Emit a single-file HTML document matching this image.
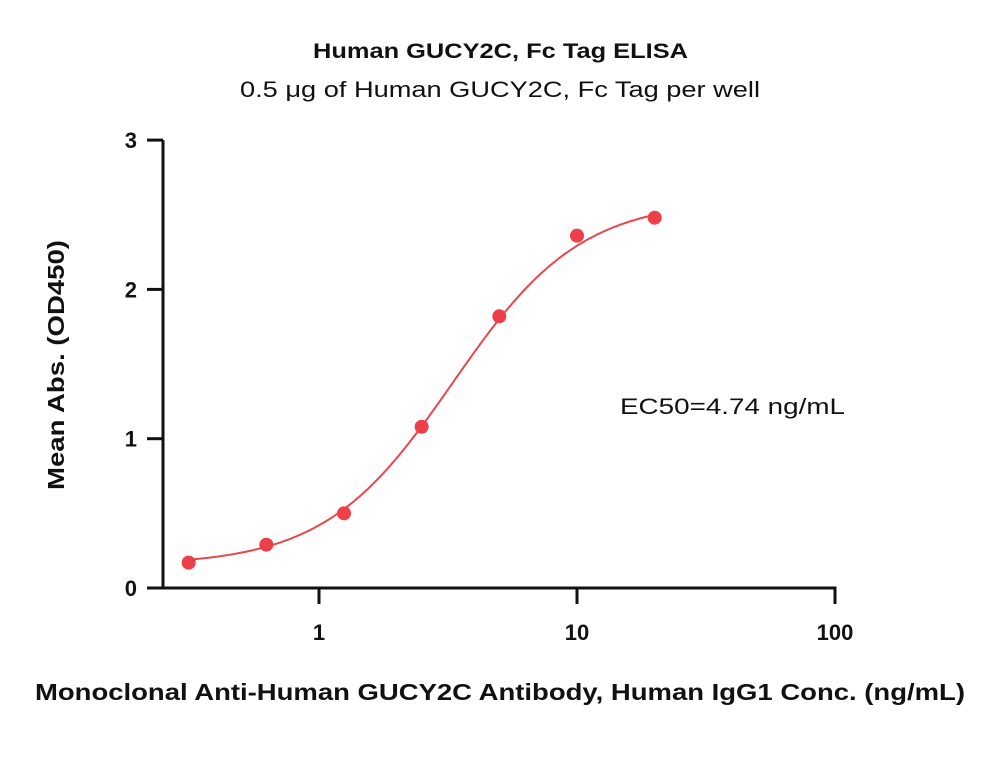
<!DOCTYPE html>
<html><head><meta charset="utf-8"><style>
html,body{margin:0;padding:0;background:#fff;}
svg{display:block;font-family:"Liberation Sans",sans-serif;}
</style></head><body>
<svg id="chart" width="1000" height="779" viewBox="0 0 1000 779">
<text x="313" y="58" textLength="375" lengthAdjust="spacingAndGlyphs" font-size="21" font-weight="bold" fill="#111">Human GUCY2C, Fc Tag ELISA</text>
<text x="240" y="97" textLength="520" lengthAdjust="spacingAndGlyphs" font-size="22" fill="#111">0.5 μg of Human GUCY2C, Fc Tag per well</text>
<text x="0" y="0" transform="translate(64,490) rotate(-90)" textLength="250" lengthAdjust="spacingAndGlyphs" font-size="23" font-weight="bold" fill="#111">Mean Abs. (OD450)</text>
<text x="35" y="700" textLength="930" lengthAdjust="spacingAndGlyphs" font-size="23" font-weight="bold" fill="#111">Monoclonal Anti-Human GUCY2C Antibody, Human IgG1 Conc. (ng/mL)</text>
<text x="620" y="414" textLength="225" lengthAdjust="spacingAndGlyphs" font-size="22" fill="#111">EC50=4.74 ng/mL</text>
<g id="axes"></g>
<g id="series"></g>
</svg>
<script>
const xValues=[0.3125,0.625,1.25,2.5,5,10,20];
const yValues=[0.17,0.29,0.50,1.08,1.82,2.36,2.48];
const yTicks=[0,1,2,3];
const xTicks=[1,10,100];
const fitBottom=0.15, fitTop=2.6, fitEC50=3.3, fitHill=1.75;
const NS="http://www.w3.org/2000/svg";
const X0=319, DEC=258, Y0=588, YU=149.3;
function sx(v){return X0+Math.log10(v)*DEC;}
function sy(v){return Y0-v*YU;}
function mk(t,a,p){const e=document.createElementNS(NS,t);for(const k in a)e.setAttribute(k,a[k]);p.appendChild(e);return e;}
const ax=document.getElementById('axes'), se=document.getElementById('series');
let l=mk('line',{x1:163,y1:sy(3),x2:163,y2:Y0+1.5,stroke:'#111','stroke-width':3},ax);


l=mk('line',{x1:147,y1:Y0,x2:sx(100)+1.5,y2:Y0,stroke:'#111','stroke-width':3},ax);


yTicks.forEach(v=>{
 const t=mk('line',{x1:147,y1:sy(v),x2:163,y2:sy(v),stroke:'#111','stroke-width':3},ax);
 
 
 const tx=mk('text',{x:137,y:sy(v)+8,'text-anchor':'end','font-size':22,'font-weight':'bold',fill:'#111'},ax);
 tx.textContent=v;
 
 
});
xTicks.forEach(v=>{
 const t=mk('line',{x1:sx(v),y1:Y0,x2:sx(v),y2:Y0+16,stroke:'#111','stroke-width':3},ax);
 
 
 const tx=mk('text',{x:sx(v),y:Y0+52,'text-anchor':'middle','font-size':22,'font-weight':'bold',fill:'#111'},ax);
 tx.textContent=v;
 
 
});
function fit(x){return fitBottom+(fitTop-fitBottom)/(1+Math.pow(fitEC50/x,fitHill));}
let d='';const lo=Math.log10(xValues[0]),hi=Math.log10(xValues[xValues.length-1]);
for(let i=0;i<=200;i++){const lx=lo+(hi-lo)*i/200;const x=Math.pow(10,lx);d+=(i?'L':'M')+sx(x).toFixed(1)+','+sy(fit(x)).toFixed(1);}
const p=mk('path',{d:d,fill:'none',stroke:'#e8474f','stroke-width':2},se);


xValues.forEach((x,i)=>{
 const c=mk('circle',{cx:sx(x),cy:sy(yValues[i]),r:7,fill:'#ec3f48'},se);
 
 
});
</script>
</body></html>
